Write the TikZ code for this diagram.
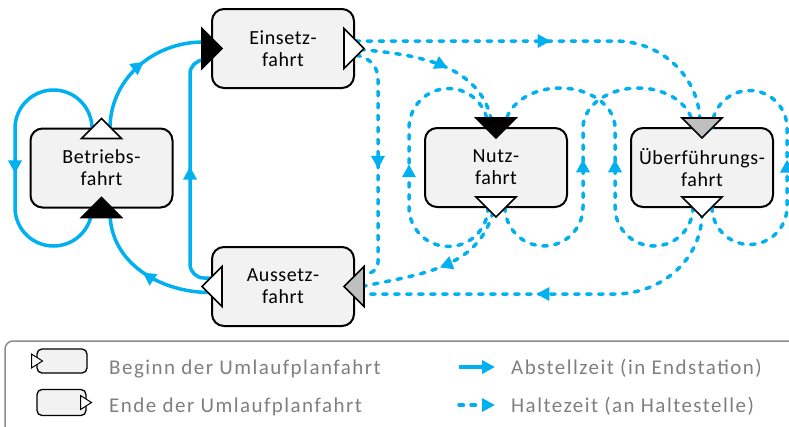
\documentclass[tikz,border=0pt]{standalone}
\usepackage{fontspec}
\setmainfont{Carlito}
\newfontfamily\nodefont[LetterSpace=3]{Carlito}
\newfontfamily\legfont[LetterSpace=7]{Carlito}
\usetikzlibrary{arrows.meta,decorations.markings,calc}
\definecolor{cblue}{HTML}{00B0F0}
\definecolor{boxfill}{HTML}{F2F2F2}
\definecolor{trigrey}{HTML}{BFBFBF}
\definecolor{legtext}{HTML}{7F7F7F}
\definecolor{legframe}{HTML}{8C8C8C}
\tikzset{
  fahrt/.style={draw=black, line width=2pt, fill=boxfill, rounded corners=12pt,
    minimum width=142pt, minimum height=79pt, inner sep=0pt, outer sep=0pt,
    align=center, font=\nodefont\fontsize{20}{22}\selectfont},
  legbox/.style={draw=black, line width=1.3pt, fill=boxfill, rounded corners=5pt,
    inner sep=0pt, outer sep=0pt},
  legtxt/.style={font=\legfont\fontsize{21}{24}\selectfont, text=legtext, inner sep=0pt},
  abstell/.style={draw=cblue, line width=3.5pt},
  halte/.style={draw=cblue, line width=3.5pt, dash pattern=on 4.5pt off 7.5pt, line cap=round},
  midarrow/.style={postaction={decorate}, decoration={markings,
    mark=at position #1 with {\arrow{Triangle[length=13pt,width=13pt]}}}},
  porttri/.style={draw=black, line width=1.6pt, line join=miter},
}
\newcommand\porttriangle[3]{\draw[porttri, fill=#3, shift={(#1)}, rotate=#2] (-20,-10) -- (20,-10) -- (0,10) -- cycle;}
\newcommand\legtriangle[2]{\draw[porttri, line width=1pt, fill=white, shift={(#1)}, rotate=#2] (-7,-5.5) -- (7,-5.5) -- (0,5.5) -- cycle;}

\begin{document}
\begin{tikzpicture}[x=1pt,y=1pt]
\useasboundingbox (0,0) rectangle (789,-426);

% boxes
\node[fahrt] (B) at (101.5,-168) {Betriebs-\\fahrt};
\node[fahrt] (E) at (283,-48.5) {Einsetz-\\fahrt};
\node[fahrt] (A) at (283,-286.5) {Aussetz-\\fahrt};
\node[fahrt] (N) at (496,-167.5) {Nutz-\\fahrt};
\node[fahrt] (U) at (702,-167.5) {Überführungs-\\fahrt};

% Abstellzeit (solid)
\draw[abstell, midarrow=0.52] ($(B.north)+(-9.5,-2)$) -- ++(0,2)
  arc[start angle=0,end angle=180,radius=38.5] -- (15,-207.5)
  arc[start angle=180,end angle=360,radius=38.5];
\draw[abstell, midarrow=0.55] ($(B.north)+(8.5,0)$) to[out=90,in=180] ($(E.west)+(-9,6.5)$);
\draw[abstell, midarrow=0.52, rounded corners=14pt] ($(A.west)+(0,8.5)$) -| (190,-60) -- ($(E.west)+(-5,-11.5)$);
\draw[abstell, midarrow=0.5] ($(A.west)+(-2,-6)$) to[out=180,in=-90] ($(B.south)+(8.5,-5)$);

% Haltezeit (dashed)
\draw[halte, midarrow=0.5] ($(E.east)+(1,7.5)$) -- (615,-41) to[out=0,in=90] ($(U.north)+(-2,5)$);
\draw[halte, midarrow=0.55] ($(E.east)+(6,-1)$) to[out=-5,in=100] ($(N.north)+(-4,5)$);
\draw[halte, midarrow=0.52] ($(E.east)+(2,-6.5)$) .. controls (370,-58) and (378,-66) .. (378,-80)
  -- (378,-262) .. controls (378,-270) and (372,-274) .. ($(A.east)+(8,12.5)$);
\draw[halte, midarrow=0.5] ($(N.south)+(-3,-5)$) to[out=-105,in=12] ($(A.east)+(8,0)$);
\draw[halte, midarrow=0.51] ($(N.south)+(-8,0)$)
  arc[start angle=0,end angle=-180,radius=39.5] -- (409,-128)
  arc[start angle=180,end angle=0,radius=39.5];
\draw[halte, midarrow=0.484] ($(N.south)+(9,0)$)
  arc[start angle=180,end angle=360,radius=39] -- (583,-128)
  arc[start angle=180,end angle=0,x radius=55,y radius=40];
\draw[halte, midarrow=0.484] ($(U.south)+(-9,0)$)
  arc[start angle=0,end angle=-180,radius=39] -- (615,-128)
  arc[start angle=0,end angle=180,x radius=55,y radius=40];
\draw[halte, midarrow=0.525] ($(U.south)+(10,0)$)
  arc[start angle=180,end angle=360,radius=37.5] -- (787,-128)
  arc[start angle=0,end angle=180,radius=37.5];
\draw[halte, midarrow=0.547] ($(U.south)+(0,-6)$) to[out=-90,in=0] (615,-294) -- ($(A.east)+(8,-7.5)$);

% port triangles
\porttriangle{B.north}{0}{white}
\porttriangle{B.south}{0}{black}
\porttriangle{E.west}{-90}{black}
\porttriangle{E.east}{-90}{white}
\porttriangle{A.west}{90}{white}
\porttriangle{A.east}{90}{trigrey}
\porttriangle{N.north}{180}{black}
\porttriangle{N.south}{180}{white}
\porttriangle{U.north}{180}{trigrey}
\porttriangle{U.south}{180}{white}

% legend
\draw[legframe, line width=1.5pt, rounded corners=8pt] (5,-341) rectangle (830,-470);
\node[legbox, minimum width=50pt, minimum height=24pt] (L1) at (62,-361) {};
\node[legbox, minimum width=49pt, minimum height=26pt] (L2) at (61.5,-402.5) {};
\legtriangle{L1.west}{-90}
\legtriangle{L2.east}{-90}
\node[legtxt, anchor=base west] (T1) at (109,-374) {Beginn der Umlaufplanfahrt};
\node[legtxt, anchor=base west] (T2) at (109,-412) {Ende der Umlaufplanfahrt};
\node[legtxt, anchor=base west] (T3) at (511,-374) {Abstellzeit (in Endstation)};
\node[legtxt, anchor=base west] (T4) at (511,-412) {Haltezeit (an Haltestelle)};
\coordinate (a1) at (459,-367);
\coordinate (a2) at (495,-367);
\coordinate (h1) at (459,-405);
\coordinate (h2) at (495,-405);
\draw[abstell, -{Triangle[length=13pt,width=13pt]}] (a1) -- (a2);
\draw[halte, -{Triangle[length=13pt,width=13pt]}] (h1) -- (h2);
\end{tikzpicture}
\end{document}
